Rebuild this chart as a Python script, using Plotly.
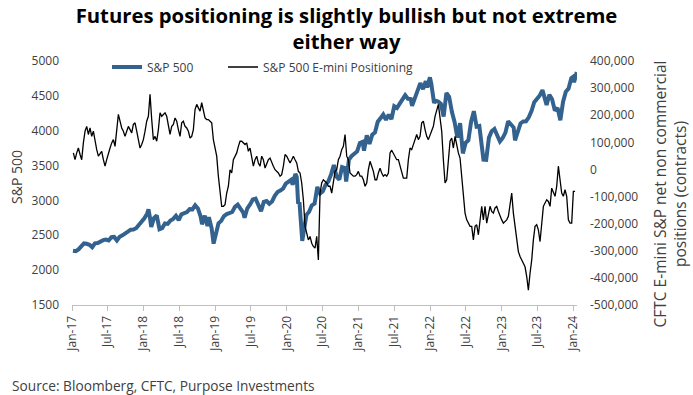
import pandas as pd
import plotly.graph_objects as go

# ---------------- data ----------------
spx_dates = [
    "2017-01-06", "2017-01-20", "2017-02-03", "2017-02-17", "2017-03-03", "2017-03-17", "2017-03-31",
    "2017-04-14", "2017-04-28", "2017-05-12", "2017-05-26", "2017-06-09", "2017-06-23", "2017-07-07",
    "2017-07-21", "2017-08-04", "2017-08-18", "2017-09-01", "2017-09-15", "2017-09-29", "2017-10-13",
    "2017-10-27", "2017-11-10", "2017-11-24", "2017-12-08", "2017-12-22",
    "2018-01-05", "2018-01-19", "2018-01-26", "2018-02-02", "2018-02-09", "2018-02-23", "2018-03-09",
    "2018-03-23", "2018-04-06", "2018-04-20", "2018-05-04", "2018-05-18", "2018-06-01", "2018-06-15",
    "2018-06-29", "2018-07-13", "2018-07-27", "2018-08-10", "2018-08-24", "2018-09-07", "2018-09-21",
    "2018-10-05", "2018-10-19", "2018-10-26", "2018-11-09", "2018-11-23", "2018-11-30", "2018-12-14",
    "2018-12-24",
    "2019-01-04", "2019-01-18", "2019-02-01", "2019-02-15", "2019-03-01", "2019-03-15", "2019-03-29",
    "2019-04-12", "2019-04-26", "2019-05-10", "2019-05-24", "2019-05-31", "2019-06-14", "2019-06-28",
    "2019-07-12", "2019-07-26", "2019-08-09", "2019-08-23", "2019-09-06", "2019-09-20", "2019-10-04",
    "2019-10-18", "2019-11-01", "2019-11-15", "2019-11-29", "2019-12-13", "2019-12-27",
    "2020-01-10", "2020-01-24", "2020-01-31", "2020-02-14", "2020-02-21", "2020-02-28", "2020-03-06",
    "2020-03-13", "2020-03-20", "2020-03-27", "2020-04-10", "2020-04-24", "2020-05-08", "2020-05-22",
    "2020-06-05", "2020-06-19", "2020-07-03", "2020-07-17", "2020-07-31", "2020-08-14", "2020-08-28",
    "2020-09-11", "2020-09-25", "2020-10-09", "2020-10-23", "2020-10-30", "2020-11-13", "2020-11-27",
    "2020-12-11", "2020-12-25",
    "2021-01-08", "2021-01-22", "2021-01-29", "2021-02-12", "2021-02-26", "2021-03-12", "2021-03-26",
    "2021-04-09", "2021-04-23", "2021-05-07", "2021-05-21", "2021-06-04", "2021-06-18", "2021-07-02",
    "2021-07-16", "2021-07-30", "2021-08-13", "2021-08-27", "2021-09-10", "2021-09-24", "2021-10-01",
    "2021-10-15", "2021-10-29", "2021-11-12", "2021-11-26", "2021-12-10", "2021-12-17", "2021-12-31",
    "2022-01-07", "2022-01-21", "2022-01-28", "2022-02-11", "2022-02-25", "2022-03-11", "2022-03-25",
    "2022-04-08", "2022-04-22", "2022-05-06", "2022-05-20", "2022-06-03", "2022-06-17", "2022-07-01",
    "2022-07-15", "2022-07-29", "2022-08-12", "2022-08-26", "2022-09-09", "2022-09-23", "2022-09-30",
    "2022-10-14", "2022-10-28", "2022-11-11", "2022-11-25", "2022-12-09", "2022-12-23",
    "2023-01-06", "2023-01-20", "2023-02-03", "2023-02-17", "2023-03-03", "2023-03-10", "2023-03-24",
    "2023-04-07", "2023-04-21", "2023-05-05", "2023-05-19", "2023-06-02", "2023-06-16", "2023-06-30",
    "2023-07-14", "2023-07-28", "2023-08-11", "2023-08-18", "2023-09-01", "2023-09-15", "2023-09-29",
    "2023-10-13", "2023-10-27", "2023-11-10", "2023-11-24", "2023-12-08", "2023-12-22", "2023-12-29",
    "2024-01-05", "2024-01-12", "2024-01-19",
]
spx_values = [
    2277, 2271, 2297, 2351, 2383, 2378, 2363, 2329, 2384, 2390, 2416, 2431, 2438, 2425,
    2472, 2476, 2425, 2477, 2500, 2519, 2553, 2581, 2582, 2602, 2652, 2683,
    2743, 2810, 2873, 2762, 2620, 2747, 2786, 2588, 2604, 2670, 2663, 2713, 2735, 2780,
    2718, 2801, 2819, 2833, 2875, 2872, 2930, 2885, 2768, 2658, 2781, 2633, 2760, 2600,
    2380,
    2532, 2671, 2707, 2776, 2804, 2822, 2834, 2907, 2940, 2881, 2826, 2752, 2887, 2942,
    3014, 3026, 2919, 2847, 2979, 2992, 2952, 2986, 3067, 3120, 3141, 3169, 3240,
    3265, 3295, 3226, 3380, 3338, 2954, 2972, 2711, 2420, 2541, 2790, 2837, 2930, 2955,
    3194, 3098, 3130, 3225, 3271, 3373, 3508, 3341, 3298, 3477, 3465, 3270, 3585, 3638,
    3663, 3703,
    3825, 3841, 3714, 3934, 3811, 3943, 3975, 4129, 4180, 4233, 4156, 4230, 4166, 4352,
    4327, 4395, 4468, 4509, 4459, 4455, 4357, 4471, 4605, 4682, 4595, 4712, 4621, 4766,
    4677, 4398, 4432, 4419, 4385, 4204, 4543, 4488, 4272, 4123, 3901, 4109, 3675, 3825,
    3863, 4130, 4280, 4058, 4067, 3693, 3586, 3583, 3901, 3993, 4026, 3934, 3845,
    3895, 3973, 4136, 4079, 4046, 3862, 3971, 4105, 4133, 4136, 4192, 4282, 4410, 4450,
    4505, 4582, 4464, 4370, 4516, 4450, 4288, 4328, 4150, 4415, 4559, 4604, 4755, 4770,
    4697, 4784, 4840,
]

# CFTC E-mini S&P net non-commercial positions (contracts), roughly weekly readings
pos_start = "2017-01-08"
pos_end = "2024-01-10"
pos_values = [
    61000, 36000, 61000, 79000, 55000, 36000, 98000, 141000, 159000, 129000, 153000, 122000,
    141000, 104000, 73000, 49000, 61000, 67000, 36000, 12000, 36000, 61000, 79000, 98000,
    110000, 85000, 147000, 203000, 178000, 153000, 141000, 122000, 141000, 159000, 147000, 135000,
    166000, 172000, 141000, 110000, 79000, 92000, 110000, 141000, 178000, 196000, 277000, 184000,
    110000, 122000, 104000, 147000, 209000, 196000, 203000, 209000, 196000, 159000, 129000, 159000,
    166000, 190000, 178000, 147000, 122000, 172000, 178000, 159000, 153000, 141000, 116000, 122000,
    147000, 221000, 240000, 227000, 215000, 246000, 215000, 190000, 184000, 184000, 178000, 172000,
    110000, 85000, 49000, -25000, -75000, -136000, -136000, -130000, -87000, -62000, -1000, -13000,
    36000, 49000, 61000, 85000, 104000, 104000, 98000, 92000, 98000, 67000, 79000, 49000,
    12000, 36000, 49000, 24000, 12000, 49000, 36000, 5000, 24000, 36000, 42000, 24000,
    12000, -1000, -7000, -13000, -25000, -19000, 12000, 55000, 49000, 36000, 24000, 36000,
    49000, 36000, 24000, -7000, -13000, -50000, -112000, -210000, -235000, -260000, -247000, -272000,
    -284000, -290000, -247000, -334000, -87000, -50000, -38000, -44000, -50000, -62000, -62000, -87000,
    -50000, -7000, -1000, 36000, 49000, 73000, 85000, 129000, 49000, 36000, -13000, -19000,
    -25000, -25000, -19000, -7000,
    -25000, -25000, -38000, -62000, -50000, -1000, 30000, 12000, -7000, -38000, -38000, -13000,
    5000, -13000, -25000, -19000, -25000, -13000, 61000, 71000, 61000, 49000, 36000, 36000,
    12000, -13000, -32000, -32000, -32000, 36000, 79000, 73000, 92000, 104000, 129000, 110000,
    122000, 172000, 178000, 147000, 122000, 110000, 129000, 141000, 159000, 196000, 221000, 240000,
    190000, 141000, 36000, -50000, -38000, 36000, 104000, 116000, 79000, 122000, 85000, 61000,
    42000, -25000, -112000, -161000, -186000, -198000, -210000, -210000, -260000, -210000, -204000, -241000,
    -186000, -136000, -186000, -136000, -198000, -161000, -136000, -155000, -161000, -142000, -136000, -155000,
    -173000, -186000, -198000, -192000, -186000, -173000, -136000, -87000, -161000, -210000, -260000, -303000,
    -321000, -334000, -346000, -359000, -395000, -445000, -383000, -334000, -260000, -210000, -204000, -223000,
    -266000, -198000, -136000, -124000, -112000, -118000, -136000, -69000, -87000, -99000, -62000, 12000,
    -38000, -87000, -99000, -75000, -99000, -186000, -198000, -198000, -81000, -81000,
]
pos_dates = pd.date_range(pos_start, pos_end, periods=len(pos_values))

right_tick_vals = [-500000, -400000, -300000, -200000, -100000, 0, 100000, 200000, 300000, 400000]
right_tick_text = ["-500,000", "-400,000", "-300,000", "-200,000", "-100,000", "0",
                   "100,000", "200,000", "300,000", "400,000"]

title_text = "Futures positioning is slightly bullish but not extreme<br>either way"
left_title = "S&P 500"
right_title = "CFTC E-mini S&P net non commercial<br>positions (contracts)"
source_text = "Source: Bloomberg, CFTC, Purpose Investments"

# ---------------- figure ----------------
FONT = "Open Sans"
TXT = "#404040"
PL, PR, PT, PB = 72, 577, 61, 305  # plot area in px
PW, PH = PR - PL, PB - PT


def px_x(x):
    return (x - PL) / PW


def px_y(y):
    return (PB - y) / PH


fig = go.Figure()
fig.add_trace(go.Scatter(
    x=spx_dates, y=spx_values, name="S&P 500", mode="lines",
    line=dict(color="#33628F", width=4), yaxis="y", legend="legend"))
fig.add_trace(go.Scatter(
    x=pos_dates, y=pos_values, name="S&P 500 E-mini Positioning", mode="lines",
    line=dict(color="#000000", width=1.3), yaxis="y2", legend="legend2"))

fig.update_layout(
    width=693, height=395,
    margin=dict(l=PL, r=693 - PR, t=PT, b=395 - PB),
    paper_bgcolor="white", plot_bgcolor="white",
    font=dict(family=FONT, size=12, color=TXT),
    title=dict(text="<b>" + title_text + "</b>", x=0.5, xref="container", xanchor="center",
               y=1 - 23 / 395, yref="container", yanchor="top",
               font=dict(family=FONT, size=20.3, color="#000000")),
    showlegend=True,
    legend=dict(orientation="h", x=px_x(107), y=px_y(67), xanchor="left", yanchor="middle",
                bgcolor="rgba(0,0,0,0)", font=dict(size=12, color=TXT), itemwidth=30),
    legend2=dict(orientation="h", x=px_x(223), y=px_y(67), xanchor="left", yanchor="middle",
                 bgcolor="rgba(0,0,0,0)", font=dict(size=12, color=TXT), itemwidth=30),
    xaxis=dict(type="date", range=["2017-01-01", "2024-01-20"], tick0="2017-01-01", dtick="M6",
               tickformat="%b-%y", tickangle=-90, ticks="outside", ticklen=5, tickcolor="#bfbfbf",
               showline=True, linecolor="#bfbfbf", linewidth=1, showgrid=False, zeroline=False,
               tickfont=dict(size=12, color=TXT)),
    yaxis=dict(range=[1500, 5000], dtick=500, showgrid=False, zeroline=False, showline=False,
               ticks="", ticklabelstandoff=12, tickfont=dict(size=12, color=TXT)),
    yaxis2=dict(overlaying="y", side="right", range=[-500000, 400000],
                tickvals=right_tick_vals, ticktext=right_tick_text,
                showgrid=False, zeroline=False, showline=False, ticks="", ticklabelstandoff=12,
                tickfont=dict(size=12, color=TXT)),
    annotations=[
        dict(text=left_title, xref="paper", yref="paper", x=px_x(16), y=px_y(177),
             xanchor="center", yanchor="middle", textangle=-90, showarrow=False,
             font=dict(size=14, color=TXT)),
        dict(text=right_title, xref="paper", yref="paper", x=px_x(669.5), y=px_y(194),
             xanchor="center", yanchor="middle", textangle=-90, showarrow=False,
             font=dict(size=15.5, color=TXT)),
        dict(text=source_text, xref="paper", yref="paper", x=px_x(10), y=px_y(385),
             xanchor="left", yanchor="middle", showarrow=False,
             font=dict(size=13.7, color=TXT)),
    ],
)

fig.write_html("out.html", config={"displayModeBar": False},
               post_script="document.body.style.margin='0';document.body.style.overflow='hidden';")
